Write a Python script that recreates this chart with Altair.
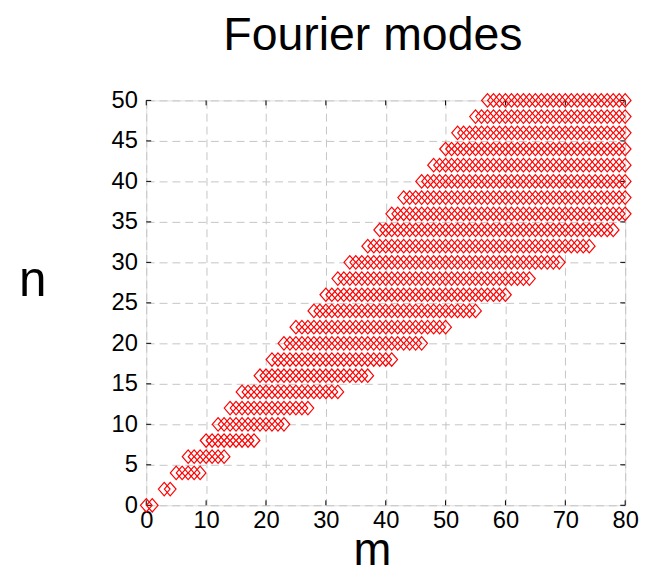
import altair as alt
import pandas as pd

# rows of Fourier modes: toroidal n and the range of poloidal m drawn on that row
n_rows = [0, 2, 4, 6, 8, 10, 12, 14, 16, 18, 20, 22, 24, 26, 28, 30, 32, 34, 36, 38, 40, 42, 44, 46, 48, 50]
m_min = [0, 3, 5, 7, 10, 12, 14, 16, 19, 21, 23, 25, 28, 30, 32, 34, 37, 39, 41, 43, 46, 48, 50, 52, 55, 57]
m_max = [1, 4, 9, 13, 18, 23, 27, 32, 37, 41, 46, 50, 55, 60, 64, 69, 74, 78, 80, 80, 80, 80, 80, 80, 80, 80]

x_ticks = [0, 10, 20, 30, 40, 50, 60, 70, 80]
y_ticks = [0, 5, 10, 15, 20, 25, 30, 35, 40, 45, 50]

records = []
for n, lo, hi in zip(n_rows, m_min, m_max):
    for m in range(lo, hi + 1):
        records.append({"m": m, "n": n})
df = pd.DataFrame(records)
xt = pd.DataFrame({"m": x_ticks})
yt = pd.DataFrame({"n": y_ticks})

W, H = 485, 410
FONT = "Liberation Sans"

xscale = alt.Scale(domain=[0, 80], nice=False, zero=False)
yscale = alt.Scale(domain=[0, 50], nice=False, zero=False)

x_axis = alt.Axis(
    values=x_ticks, title="m", grid=True, domain=False, ticks=False,
    labelFont=FONT, labelFontSize=24, labelColor="black", labelPadding=4,
    labelFlush=False, labelOverlap=False,
    gridColor="#c4c4c4", gridDash=[8, 5], gridWidth=1,
    titleFont=FONT, titleFontSize=46, titleFontWeight="normal", titleColor="black",
    titleX=228.5, titleY=60, titleAlign="center", titleBaseline="alphabetic",
)
y_axis = alt.Axis(
    values=y_ticks, title="n", grid=True, domain=False, ticks=False,
    labelFont=FONT, labelFontSize=24, labelColor="black", labelPadding=9,
    labelFlush=False, labelOverlap=False,
    gridColor="#c4c4c4", gridDash=[8, 5], gridWidth=1,
    titleFont=FONT, titleFontSize=50, titleFontWeight="normal", titleColor="black",
    titleAngle=0, titleX=-115.5, titleY=198, titleAlign="center", titleBaseline="alphabetic",
)

X = alt.X("m:Q", scale=xscale, axis=x_axis)
Y = alt.Y("n:Q", scale=yscale, axis=y_axis)

points = alt.Chart(df).mark_point(
    shape="M-1,0L0,-1.15L1,0L0,1.15Z", size=140, filled=False,
    color="#ff0000", strokeWidth=1.2, opacity=1,
).encode(x=X, y=Y)

tick_style = dict(color="black", strokeWidth=1)
bottom_ticks = alt.Chart(xt).mark_rule(**tick_style).encode(x=X, y=alt.value(H), y2=alt.value(H - 5))
top_ticks = alt.Chart(xt).mark_rule(**tick_style).encode(x=X, y=alt.value(0), y2=alt.value(5))
left_ticks = alt.Chart(yt).mark_rule(**tick_style).encode(y=Y, x=alt.value(0), x2=alt.value(5))
right_ticks = alt.Chart(yt).mark_rule(**tick_style).encode(y=Y, x=alt.value(W), x2=alt.value(W - 5))

chart = alt.layer(bottom_ticks, top_ticks, left_ticks, right_ticks, points).properties(
    width=W, height=H,
    title=alt.TitleParams(
        "Fourier modes", font=FONT, fontSize=47, fontWeight="normal", color="black",
        anchor="middle", frame="group", dx=-13, offset=29,
    ),
    autosize=alt.AutoSizeParams(type="none"),
    padding={"left": 140, "top": 90, "right": 14, "bottom": 66},
).configure_view(stroke="black", strokeWidth=1).configure(background="white")

chart.save("out.html", embed_options={"renderer": "svg", "actions": False})
